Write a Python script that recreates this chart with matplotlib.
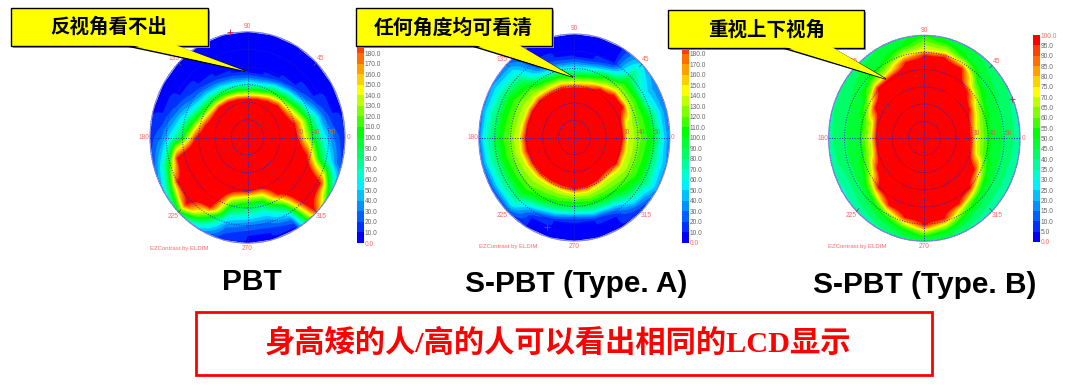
import numpy as np
import matplotlib
matplotlib.use("Agg")
import matplotlib.pyplot as plt
from matplotlib.colors import BoundaryNorm, ListedColormap
from matplotlib.patches import Ellipse, Polygon, Rectangle

W, H = 1080, 390

# viewing direction of each column of the tables below (degrees)
theta_deg = [0, 15, 30, 45, 60, 75, 90, 105, 120, 135, 150, 165,
             180, 195, 210, 225, 240, 255, 270, 285, 300, 315, 330, 345]

# polar angle (deg) where the contrast falls to a given value
pbt_r190 = [31, 30, 26.5, 26, 24, 22.7, 22, 22.5, 23.5, 24.5, 24.5, 27, 32, 45, 50, 54, 46, 32, 31, 30, 37.5, 59, 52, 38]
pbt_r140 = [36, 35, 31, 29, 27, 25, 24.5, 25, 26, 27, 28, 31, 36, 47.5, 52.5, 57, 49, 36, 34, 34, 41, 62, 55, 42]
pbt_r100 = [41, 39, 35, 32, 30, 28, 27.5, 28, 29, 30, 31.5, 35, 40, 50, 55, 60, 53, 41, 38, 38, 45, 65, 58, 46]
pbt_r60 = [47, 44, 39, 36, 33.5, 31, 31, 31, 32.5, 34, 36, 41, 47, 54, 59, 64, 58, 47, 45, 44, 50, 68, 62, 52]
pbt_r30 = [53, 48, 42, 38.5, 36, 34, 34, 34.5, 36, 38, 41, 47, 53, 59, 64, 69, 63, 53, 50, 50, 54, 72, 66, 57]
pbt_r10 = [60, 54, 47, 42, 39, 37, 37, 38, 40, 43, 48, 54, 62, 66, 72, 76, 70, 60, 56, 56, 59, 78, 72, 63]

a_r190 = [30.7, 30.7, 35.5, 35, 32.5, 29.7, 29, 29.5, 29.5, 30.5, 30.6, 30.5, 31, 31, 30, 29.5, 29, 29, 30, 29.5, 29, 28, 30.5, 30]
a_r140 = [34, 34, 38, 38, 35, 33, 32, 33, 33, 34, 34, 34, 35, 35, 34, 33, 32, 32, 33, 33, 32, 32, 34, 34]
a_r100 = [50, 48, 46, 46, 41, 37, 36, 37, 38, 43, 47, 47, 48, 47, 46, 46, 42, 40, 39, 40, 41, 44, 48, 48]
a_r60 = [55, 54, 50, 58, 44, 41, 40, 41, 42, 53, 55, 56, 57, 56, 55, 55, 47, 45, 44, 45, 46, 52, 56, 55]
a_r30 = [60, 60, 60, 66, 47, 44, 44, 44, 46, 60, 62, 61, 60, 60, 59, 59, 50, 47.5, 46, 47.5, 49, 56, 62, 62]
a_r10 = [70, 70, 70, 72, 50, 47, 47, 48, 52, 70, 72, 70, 70, 68, 62, 62, 54, 50, 49, 50, 53, 60, 70, 70]

b_r95 = [29.2, 29.5, 33, 38.5, 47, 49, 48.5, 46, 41.5, 41.5, 36, 31, 30.4, 30.5, 34.5, 41, 45, 48, 51, 48.7, 44, 41, 36.5, 30]
b_r70 = [33, 34, 37, 42, 50, 52, 52, 50, 45, 44, 39, 34, 34, 34, 38, 44, 48, 51, 54, 52, 47, 44, 40, 34]
b_r50 = [42, 42, 44, 48, 54, 58, 62, 56, 52, 49, 44, 41, 41, 41, 44, 48, 52, 55, 58, 56, 52, 48, 45, 42]
b_r35 = [64, 64, 68, 72, 75, 76, 80, 75, 74, 72, 68, 68, 66, 64, 58, 60, 62, 64, 68, 66, 62, 60, 60, 62]

ab_values = [190, 140, 100, 60, 30, 10]
b_values = [95, 70, 50, 35]

# colour bands of the scale, bottom to top
band_colors = ["#0000ff", "#0030ff", "#0060ff", "#0090ff", "#00c0ff", "#00f0ff", "#00ffd0",
               "#00ff99", "#00ff66", "#00ff33", "#00ff00", "#40ff00", "#80ff00", "#c0ff00",
               "#ffff00", "#ffd000", "#ffa000", "#ff7000", "#ff4000", "#ff0000"]

ring_angles = [10, 20, 30, 40, 50, 60]
rim_ticks = [45, 135, 225, 315]
azimuth_labels = ["0", "45", "90", "135", "180", "225", "270", "315"]
azimuth_x = [62, 45, 0, -45.5, -63.5, -45.5, 0, 45.5]
azimuth_y = [0, 45, 63, 45, 0, -45, -63, -45]
ring_labels = [30, 40, 50]

panel_names = ["PBT", "S-PBT (Type. A)", "S-PBT (Type. B)"]
callouts = ["反视角看不出", "任何角度均可看清", "重视上下视角"]
bottom_text = "身高矮的人/高的人可以看出相同的LCD显示"

# red cross seen on each plot (x, y in degrees)
cross_pts = [(-11, 60), (-17.3, -51.6), (54.8, 22.8)]

CJK = ["Noto Sans CJK SC", "DejaVu Sans"]
PINK = "#ff6a6a"
GRID = "#2020c4"

fig = plt.figure(figsize=(W / 100, H / 100), dpi=100, facecolor="white")


def px_axes(left, top, right, bottom, **kw):
    return fig.add_axes([left / W, 1 - bottom / H, (right - left) / W, (bottom - top) / H], **kw)


def draw_plot(cx, cy, rx, ry, radii, values, levels, top_value, cross):
    ax = px_axes(cx - rx, cy - ry, cx + rx, cy + ry)
    ax.set_xlim(-60, 60)
    ax.set_ylim(-60, 60)
    ax.axis("off")

    r = np.linspace(0, 60, 241)
    th = np.radians(theta_deg + [360])
    z = np.zeros((len(r), len(th)))
    for j in range(len(th)):
        k = j % len(theta_deg)
        rs = [0] + [col[k] for col in radii] + [130]
        z[:, j] = np.interp(r, rs, [top_value] + values + [0])
    x = np.outer(r, np.cos(th))
    y = np.outer(r, np.sin(th))
    # each band painted over the one below, so no seams show between them
    for low, col in zip(levels[:-1], band_colors):
        ax.contourf(x, y, z, levels=[low, levels[-1]], colors=[col], antialiased=True)

    for a in ring_angles:
        ax.add_patch(Ellipse((0, 0), 2 * a, 2 * a, fill=False, ec=GRID, lw=0.7, ls=(0, (1, 1.6)), alpha=0.9))
    ax.plot([-60, 60], [0, 0], color=GRID, lw=0.7, ls=(0, (1, 1.6)))
    ax.plot([0, 0], [-60, 60], color=GRID, lw=0.7, ls=(0, (1, 1.6)))
    ax.add_patch(Ellipse((0, 0), 120, 120, fill=False, ec="#8080e0", lw=0.8, clip_on=False))

    for a in rim_ticks:
        c, s = np.cos(np.radians(a)), np.sin(np.radians(a))
        ax.plot([58 * c, 60 * c], [58 * s, 60 * s], color="#406060", lw=0.6)
    for lab, lx, ly in zip(azimuth_labels, azimuth_x, azimuth_y):
        ax.text(lx, ly, lab, color=PINK, family="Liberation Sans", fontsize=4.8, ha="center", va="center", clip_on=False)
    for a in ring_labels:
        ax.text(a + 2.5, 3, str(a), color="#c07040", family="Liberation Sans", fontsize=4.8, ha="center", va="center")
    ax.plot([cross[0]], [cross[1]], marker="+", color="#d0205a", ms=4, mew=0.6, clip_on=False)
    ax.text(-60, -63, "EZContrast by ELDIM", color=PINK, family="Liberation Sans", fontsize=4.3, ha="left", va="center", clip_on=False)


def draw_bar(left, right, top, bottom, vmax, step, labels):
    cb = px_axes(left, top, right, bottom)
    edges = np.arange(0, vmax + step, step)
    cmap = ListedColormap(band_colors)
    cb.pcolormesh([0, 1], edges, np.array(edges[:-1] + step / 2).reshape(-1, 1),
                  cmap=cmap, norm=BoundaryNorm(edges, cmap.N))
    cb.set_xticks([])
    cb.set_ylim(0, vmax)
    cb.yaxis.tick_right()
    cb.set_yticks(labels)
    cb.set_yticklabels(["%.1f" % v for v in labels], family="Liberation Sans")
    cb.tick_params(axis="y", length=0, pad=1, labelsize=4.8, labelcolor="#666666")
    cb.get_yticklabels()[0].set_color(PINK)
    if labels[-1] == vmax:
        cb.get_yticklabels()[-1].set_color(PINK)
    for s in cb.spines.values():
        s.set_visible(False)


ab_levels = list(range(0, 200, 10)) + [1000]
b_levels = list(range(0, 100, 5)) + [1000]
pbt_radii = [pbt_r190, pbt_r140, pbt_r100, pbt_r60, pbt_r30, pbt_r10]
a_radii = [a_r190, a_r140, a_r100, a_r60, a_r30, a_r10]
b_radii = [b_r95, b_r70, b_r50, b_r35]

draw_plot(247.5, 137.5, 97.5, 105.7, pbt_radii, ab_values, ab_levels, 400, cross_pts[0])
draw_plot(574.3, 137.5, 95.5, 103.5, a_radii, ab_values, ab_levels, 400, cross_pts[1])
draw_plot(924.3, 138.3, 95.8, 103.0, b_radii, b_values, b_levels, 200, cross_pts[2])

ab_ticks = list(range(0, 190, 10))
b_ticks = list(range(0, 105, 5))
draw_bar(357, 363.5, 32, 243, 200, 10, ab_ticks)
draw_bar(682, 688.5, 33, 242.5, 200, 10, ab_ticks)
draw_bar(1033, 1039.5, 35, 242, 100, 5, b_ticks)

# everything annotated on top, in pixel coordinates
over = fig.add_axes([0, 0, 1, 1], facecolor="none")
over.set_xlim(0, W)
over.set_ylim(H, 0)
over.axis("off")


def draw_callout(box, tail, text, tx, ty, size):
    l, t, r, b = box
    over.add_patch(Rectangle((l + 1.5, t + 1.5), r - l, b - t, fc="#9a9a9a", ec="none"))
    over.add_patch(Polygon([(tail[0], b), tail[1], (tail[2], b)], closed=True, fc="#ffff00", ec="black", lw=1))
    over.add_patch(Rectangle((l, t), r - l, b - t, fc="#ffff00", ec="black", lw=1))
    over.add_patch(Polygon([(tail[0] + 1, b - 1.5), tail[1], (tail[2] - 1, b - 1.5)], closed=True, fc="#ffff00", ec="none"))
    over.text(tx, ty, text, family=CJK, fontsize=size, fontweight="bold", ha="center", va="center", color="black")


draw_callout((11, 8, 208, 46), (127, (245, 71), 175), callouts[0], 109, 27, 14)
draw_callout((356, 8, 552, 46), (472, (573, 77), 519), callouts[1], 453, 27, 14.3)
draw_callout((668, 10, 864, 48), (783, (886, 79), 832), callouts[2], 767, 30, 14)

for name, x, y in zip(panel_names, [252, 576.5, 925], [282, 284, 285]):
    over.text(x, y, name, family="Liberation Sans", fontweight="bold", fontsize=21.5, ha="center", va="center", color="black")

over.add_patch(Rectangle((195.5, 312), 736.5, 63, fc="white", ec="#ff0000", lw=2))
over.text(558, 343, bottom_text, family=["Liberation Serif", "Noto Sans CJK SC"], fontweight="bold",
          fontsize=21.8, ha="center", va="center", color="#ff0000")

fig.savefig("out.png", dpi=100)
